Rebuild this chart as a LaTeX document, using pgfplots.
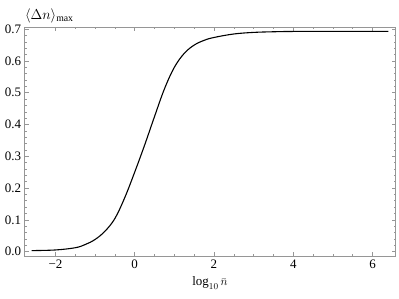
\documentclass[border=0pt]{standalone}
\usepackage{fontspec}
\setmainfont{Liberation Serif}
\usepackage{pgfplots}
\pgfplotsset{compat=1.18}
\definecolor{framegray}{RGB}{150,150,150}
\begin{document}
\begin{tikzpicture}
\begin{axis}[
  scale only axis,
  width=371bp, height=229bp,
  at={(0,0)}, anchor=south west,
  xmin=-2.78, xmax=6.58,
  ymin=-0.014, ymax=0.707,
  xtick={-2,0,2,4,6},
  ytick={0,0.1,0.2,0.3,0.4,0.5,0.6,0.7},
  minor x tick num=3,
  minor y tick num=4,
  tick pos=both,
  tick align=inside,
  major tick length=4bp,
  minor tick length=2bp,
  every tick/.style={framegray, line width=0.5pt},
  axis line style={framegray, line width=0.6pt},
  /pgf/number format/assume math mode=true,
  yticklabel style={/pgf/number format/fixed, /pgf/number format/fixed zerofill, /pgf/number format/precision=1, font=\fontsize{13}{15}\selectfont},
  xticklabel style={font=\fontsize{13}{15}\selectfont},
  xticklabel={\pgfmathparse{abs(\tick)}\ifdim\tick pt<0pt \textminus\fi\pgfmathprintnumber{\pgfmathresult}},
  every axis x label/.style={at={(axis description cs:0.5,0)}, anchor=center, yshift=-27bp},
  every axis y label/.style={at={(axis description cs:0,1)}, anchor=west, xshift=-3bp, yshift=11bp},
  xlabel={\fontsize{13}{15}\selectfont$\log_{10}\bar{n}$},
  ylabel={\fontsize{14}{16}\selectfont$\langle\Delta n\rangle_{\max}$},
  clip=false,
]
\addplot[black, line width=1.1pt, smooth, tension=0.6] coordinates {
(-2.60,0.003) (-2.0,0.005) (-1.5,0.012) (-1.25,0.022) (-1.0,0.038)
(-0.75,0.064) (-0.5,0.104) (-0.25,0.170) (0.0,0.250) (0.25,0.335)
(0.5,0.425) (0.75,0.512) (1.0,0.580) (1.25,0.624) (1.5,0.650)
(1.75,0.665) (2.0,0.674) (2.5,0.685) (3.0,0.690) (3.5,0.692)
(4.0,0.693) (5.0,0.693) (6.4,0.693)
};
\end{axis}
\pgfresetboundingbox
\path (-24.5bp,-43bp) rectangle (374.5bp,256bp);
\end{tikzpicture}
\end{document}
